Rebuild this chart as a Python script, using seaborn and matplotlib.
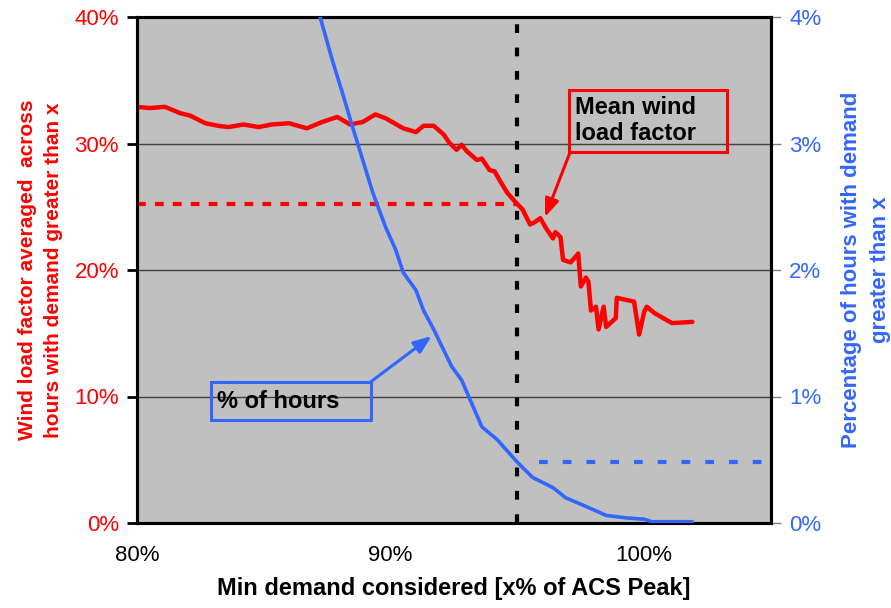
import matplotlib
matplotlib.use("Agg")
import matplotlib.pyplot as plt
import seaborn as sns
import numpy as np
from matplotlib.ticker import PercentFormatter, MultipleLocator
from matplotlib.patches import Rectangle

# ---------------- data ----------------
red_x = [80.0, 80.5, 81.1, 81.7, 82.1, 82.7, 83.2, 83.6, 84.2, 84.8, 85.3, 86.0, 86.7,
         87.3, 87.9, 88.4, 88.9, 89.4, 89.8, 90.5, 91.0, 91.3, 91.7, 92.1, 92.3, 92.6,
         92.8, 93.0, 93.4, 93.6, 93.9, 94.1, 94.3, 94.6, 95.0, 95.2, 95.5, 95.7, 95.9,
         96.1, 96.4, 96.5, 96.7, 96.8, 97.1, 97.4, 97.5, 97.7, 97.8, 97.9, 98.1, 98.2,
         98.4, 98.5, 98.88, 98.92, 99.6, 99.8, 100.0, 100.1, 100.4, 101.1, 101.9]
red_y = [32.9, 32.8, 32.9, 32.4, 32.2, 31.6, 31.4, 31.3, 31.5, 31.3, 31.5, 31.6, 31.2,
         31.7, 32.1, 31.5, 31.7, 32.3, 32.0, 31.2, 30.9, 31.4, 31.4, 30.7, 30.1, 29.5,
         29.9, 29.4, 28.7, 28.8, 27.9, 27.8, 27.1, 26.1, 25.2, 24.8, 23.6, 23.8, 24.1,
         23.4, 22.5, 23.0, 22.6, 20.8, 20.6, 21.3, 18.7, 19.4, 19.1, 16.8, 17.1, 15.3,
         17.1, 15.5, 16.2, 17.8, 17.5, 14.9, 16.7, 17.1, 16.6, 15.8, 15.9]

blue_x = [87.15, 87.7, 88.1, 88.5, 88.9, 89.3, 89.8, 90.2, 90.5, 91.0, 91.3, 91.7,
          92.4, 92.8, 93.6, 94.2, 95.0, 95.6, 96.4, 96.9, 97.6, 98.5, 99.3, 100.0,
          100.3, 101.0, 101.9]
blue_y = [4.05, 3.66, 3.40, 3.13, 2.87, 2.61, 2.34, 2.16, 1.98, 1.84, 1.68, 1.53,
          1.24, 1.13, 0.76, 0.66, 0.48, 0.36, 0.28, 0.20, 0.14, 0.06, 0.04, 0.03,
          0.01, 0.01, 0.01]

threshold = 95.0
mean_at_threshold = 25.2
hours_at_threshold = 0.48

x_ticks = [80, 85, 90, 95, 100, 105]
x_tick_labels = ["80%", "", "90%", "", "100%", ""]

RED = "#FF0000"
BLUE = "#3366FF"

# ---------------- figure ----------------
sns.set_theme(style="white")
plt.rcParams["font.family"] = ["Liberation Sans", "DejaVu Sans"]

fig = plt.figure(figsize=(8.91, 6.08), dpi=100)
ax = fig.add_axes([137 / 891, 1 - 523 / 608, (771 - 137) / 891, (523 - 17) / 608])
ax.set_facecolor("#C0C0C0")
ax2 = ax.twinx()
ax2.set_facecolor("none")

ax.set_xlim(80, 105)
ax.set_ylim(0, 40)
ax2.set_ylim(0, 4)

# grid lines
for g in [10, 20, 30]:
    ax.axhline(g, color="#404040", lw=1.0, zorder=1)

# reference lines
ax.hlines(mean_at_threshold, 80, threshold, color=RED, lw=3, linestyles=(0, (2.1, 2.2)), zorder=2)
ax.vlines(threshold, 0, 40, color="black", lw=3, linestyles=(0, (2.1, 3.5)), zorder=2)
ax2.hlines(hours_at_threshold, threshold + 0.85, 104.8, color=BLUE, lw=3,
           linestyles=(0, (2.1, 3.6)), zorder=2)

# data lines
sns.lineplot(x=red_x, y=red_y, ax=ax, color=RED, lw=3.2, estimator=None, sort=False, zorder=3)
sns.lineplot(x=blue_x, y=blue_y, ax=ax2, color=BLUE, lw=2.6, estimator=None, sort=False, zorder=3)

# ticks & labels
ax.set_xticks(x_ticks)
ax.set_xticklabels(x_tick_labels)
ax.yaxis.set_major_locator(MultipleLocator(10))
ax.yaxis.set_major_formatter(PercentFormatter(decimals=0))
ax2.yaxis.set_major_locator(MultipleLocator(1))
ax2.yaxis.set_major_formatter(PercentFormatter(decimals=0))

ax.tick_params(axis="x", direction="inout", length=11, width=2, colors="black",
               labelsize=16, pad=10, labelcolor="black")
ax.tick_params(axis="y", direction="out", length=7, width=2, colors="black",
               labelsize=16, pad=6, labelcolor=RED)
ax2.tick_params(axis="y", direction="out", length=7, width=1, colors="#808080",
                labelsize=16, pad=6, labelcolor=BLUE)

for a in (ax, ax2):
    for s in a.spines.values():
        s.set_color("black")
        s.set_linewidth(2.2)
        s.set_visible(True)

ax.set_xlabel("Min demand considered [x% of ACS Peak]", fontsize=17, fontweight="bold",
              color="black", labelpad=8)
ax.set_ylabel("Wind load factor averaged  across\nhours with demand greater than x",
              fontsize=15, fontweight="bold", color=RED, labelpad=8, linespacing=1.45)
ax2.set_ylabel("Percentage of hours with demand\ngreater than x", fontsize=16,
               fontweight="bold", color=BLUE, labelpad=14, linespacing=1.5, rotation=90)

# annotations: Mean wind load factor
ax.add_patch(Rectangle((97.05, 29.33), 103.28 - 97.05, 34.23 - 29.33, fill=False,
                       edgecolor=RED, lw=2.2, zorder=5))
ax.text(97.27, 31.8, "Mean wind\nload factor", fontsize=17, fontweight="bold",
        color="black", va="center", ha="left", linespacing=1.15, zorder=6)
ax.annotate("", xy=(96.09, 24.19), xytext=(97.08, 29.33),
            arrowprops=dict(arrowstyle="-|>,head_length=0.9,head_width=0.35",
                            color=RED, lw=2.2, shrinkA=0, shrinkB=0), zorder=5)

# annotations: % of hours
ax.add_patch(Rectangle((82.92, 8.14), 89.21 - 82.92, 11.15 - 8.14, fill=False,
                       edgecolor=BLUE, lw=2.2, zorder=5))
ax.text(83.16, 9.6, "% of hours", fontsize=17, fontweight="bold", color="black",
        va="center", ha="left", zorder=6)
ax.annotate("", xy=(91.62, 14.78), xytext=(89.21, 11.15),
            arrowprops=dict(arrowstyle="-|>,head_length=0.9,head_width=0.35",
                            color=BLUE, lw=2.2, shrinkA=0, shrinkB=0), zorder=5)

fig.savefig("out.png", dpi=100)
